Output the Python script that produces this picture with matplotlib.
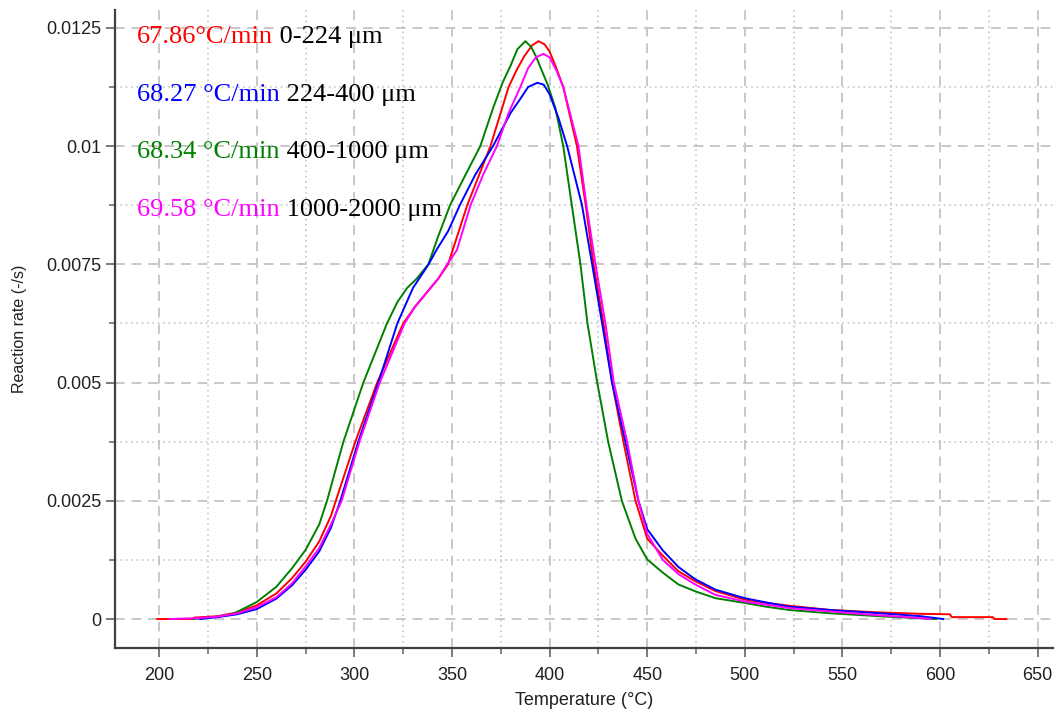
import matplotlib
matplotlib.use("Agg")
import matplotlib.pyplot as plt
from matplotlib.ticker import FixedLocator, MultipleLocator

# ---- data ----
T_red = [199, 217, 218, 230, 240, 250, 260, 268, 275, 282, 288, 290.5, 300.5, 311.7, 325,
         331, 337, 343, 348, 357.8, 369.7, 379, 383, 387, 391, 394.3, 397.5, 400, 403, 407,
         414, 418.5, 422.5, 427.6, 432, 437.8, 444, 450, 458, 466, 474.6, 485, 500, 511,
         523, 544, 569, 590, 605, 606, 627, 628, 634]
R_red = [0, 0, 0.00003, 0.00006, 0.00014, 0.00029, 0.00054, 0.00086, 0.00121, 0.00164,
         0.00218, 0.0025, 0.00375, 0.005, 0.00625, 0.0066, 0.0069, 0.0072, 0.0075, 0.00875,
         0.0100, 0.01125, 0.0116, 0.0119, 0.01213, 0.01222, 0.01215, 0.0120, 0.0117, 0.01125,
         0.0100, 0.00875, 0.0075, 0.00625, 0.005, 0.00375, 0.0025, 0.0017, 0.00134, 0.00101,
         0.0008, 0.00059, 0.00041, 0.00034, 0.00028, 0.00019, 0.00014, 0.00011, 0.0001,
         0.00004, 0.00004, 0.0, 0.0]

T_green = [217.5, 230, 238, 250, 260, 268, 275, 282, 286, 290, 294.4, 304.6, 316.7, 322,
           327, 332, 337.9, 343, 349, 357, 364.5, 371, 376, 380, 383.5, 387.6, 390.5, 393,
           396, 399, 403, 407, 410.5, 415.8, 419.4, 424.4, 430, 437, 444, 450, 458, 466,
           475, 485, 500, 511, 523, 544, 573, 598]
R_green = [0, 0.00005, 0.00011, 0.00036, 0.00068, 0.00107, 0.00146, 0.0020, 0.0025, 0.0031,
           0.00375, 0.005, 0.00625, 0.0067, 0.0070, 0.0072, 0.0075, 0.0081, 0.00875, 0.0094,
           0.0100, 0.0108, 0.01135, 0.0117, 0.01205, 0.01222, 0.0121, 0.0119, 0.0116, 0.0113,
           0.0108, 0.0100, 0.0090, 0.0075, 0.00625, 0.005, 0.00375, 0.0025, 0.0017, 0.00126,
           0.00098, 0.00073, 0.00058, 0.00044, 0.00034, 0.00026, 0.00019, 0.00012, 0.00005,
           0.0]

T_blue = [221, 230, 240, 250, 260, 268, 275, 282, 288, 292.8, 302, 312.3, 322, 330, 338,
          342, 348, 354, 362, 371, 380, 385, 389, 393.7, 397, 400, 404.5, 409, 416.6, 421.8,
          426.9, 432, 438.8, 445.5, 450, 458, 466, 474.6, 485, 500, 511, 523, 544, 573, 590,
          601.6]
R_blue = [0, 0.00004, 0.0001, 0.00021, 0.00043, 0.00071, 0.00104, 0.00143, 0.00193, 0.0025,
          0.00375, 0.005, 0.00625, 0.0070, 0.0075, 0.0078, 0.0082, 0.00875, 0.0094, 0.0100,
          0.0107, 0.0110, 0.01125, 0.01134, 0.0113, 0.0111, 0.0106, 0.0100, 0.00875, 0.0075,
          0.00625, 0.005, 0.00375, 0.0025, 0.0019, 0.00145, 0.0011, 0.00084, 0.00062,
          0.00044, 0.00035, 0.00026, 0.00019, 0.00011, 0.00006, 0.0]

T_mag = [205.6, 220, 230, 240, 250, 260, 268, 275, 282, 288, 293.5, 302.6, 313, 325.7, 331,
         337, 343, 347.5, 352.5, 359.5, 366, 373, 379, 385, 389, 393, 396.8, 400, 403.5, 407,
         414.8, 418.9, 423.5, 428.6, 432.9, 439.7, 445.5, 450, 458, 466, 474.6, 485, 500,
         523, 544, 565, 583, 595]
R_mag = [0, 0.00002, 0.00005, 0.00012, 0.00025, 0.00046, 0.00075, 0.00111, 0.0015, 0.002,
         0.0025, 0.00375, 0.005, 0.00625, 0.0066, 0.0069, 0.0072, 0.0075, 0.0078, 0.00875,
         0.0094, 0.0100, 0.0107, 0.01125, 0.01165, 0.01188, 0.01195, 0.01188, 0.0116,
         0.01125, 0.0100, 0.00875, 0.0075, 0.00625, 0.005, 0.00375, 0.0025, 0.0018, 0.00125,
         0.00095, 0.00073, 0.00051, 0.00037, 0.00023, 0.00016, 0.00009, 0.00004, 0.0]

rates = ["67.86\u00b0C/min", "68.27 \u00b0C/min", "68.34 \u00b0C/min", "69.58 \u00b0C/min"]
sizes = ["0-224 \u03bcm", "224-400 \u03bcm", "400-1000 \u03bcm", "1000-2000 \u03bcm"]
colors = ["#ff0000", "#0000ff", "#008000", "#ff00ff"]

x_ticks = [200, 250, 300, 350, 400, 450, 500, 550, 600, 650]
y_ticks = [0, 0.0025, 0.005, 0.0075, 0.01, 0.0125]
y_tick_labels = ["0", "0.0025", "0.005", "0.0075", "0.01", "0.0125"]

# ---- figure ----
fig = plt.figure(figsize=(10.56, 7.11), dpi=100)
ax = fig.add_axes([0.1089, 0.0886, 0.888, 0.8974])

ax.plot(T_red, R_red, color=colors[0], lw=1.4, zorder=3)
ax.plot(T_green, R_green, color=colors[2], lw=1.4, zorder=3)
ax.plot(T_blue, R_blue, color=colors[1], lw=1.4, zorder=3)
ax.plot(T_mag, R_mag, color=colors[3], lw=1.4, zorder=3)

ax.set_xlim(177.4, 657.7)
ax.set_ylim(-0.000613, 0.01288)

ax.xaxis.set_major_locator(FixedLocator(x_ticks))
ax.xaxis.set_minor_locator(MultipleLocator(25))
ax.yaxis.set_major_locator(FixedLocator(y_ticks))
ax.set_yticklabels(y_tick_labels)
ax.yaxis.set_minor_locator(MultipleLocator(0.00125))

ax.grid(which="major", linestyle=(0, (5, 3.5)), color="#c8c8c8", lw=1.4, zorder=0)
ax.grid(which="minor", linestyle=(0, (1, 2.5)), color="#bdbdbd", lw=1.1, zorder=0)

for s in ["top", "right"]:
    ax.spines[s].set_visible(False)
for s in ["left", "bottom"]:
    ax.spines[s].set_color("#404040")
    ax.spines[s].set_linewidth(1.6)

ax.tick_params(which="major", direction="out", length=6.5, width=1.3, color="#707070",
               labelsize=13, labelcolor="#202020", pad=3)
ax.tick_params(which="minor", direction="out", length=4, width=1.2, color="#707070")
for lab in ax.get_xticklabels() + ax.get_yticklabels():
    lab.set_fontfamily("Liberation Sans")
ax.tick_params(axis="x", which="major", pad=7)

ax.set_xlabel("Temperature (\u00b0C)", fontfamily="Liberation Sans", fontsize=13,
              color="#202020", labelpad=6)
ax.set_ylabel("Reaction rate (-/s)", fontfamily="Liberation Sans", fontsize=11.5,
              color="#202020", labelpad=14)

# ---- legend as text ----
ys = [0.957, 0.866, 0.777, 0.687]
for r, s, c, y in zip(rates, sizes, colors, ys):
    t1 = ax.text(0.0235, y, r, transform=ax.transAxes, color=c, fontsize=19,
                 fontfamily="Liberation Serif", va="center", ha="left", zorder=5)
    ax.annotate(" " + s, xy=(1, 0), xycoords=t1, va="bottom", ha="left",
                fontsize=19, fontfamily="Liberation Serif", color="black", zorder=5)

fig.savefig("out.png", dpi=100)
